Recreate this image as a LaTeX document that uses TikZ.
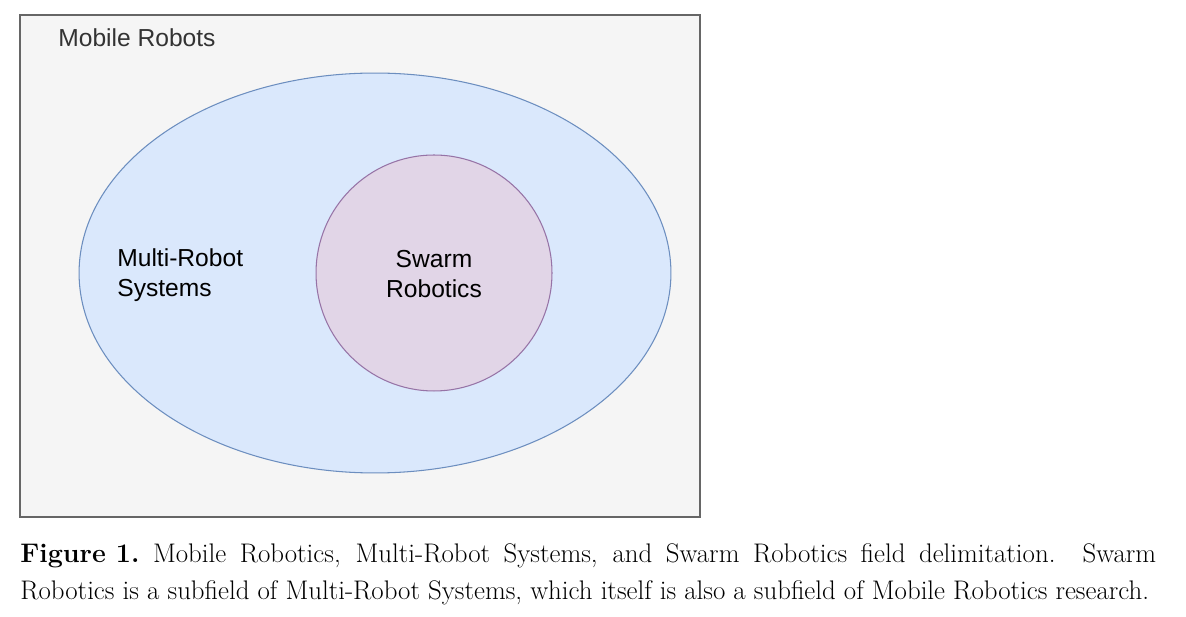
\documentclass[tikz,border=0pt]{standalone}
\usepackage{fontspec}
\setsansfont{Liberation Sans}
\usepackage{tikz}
\usetikzlibrary{shapes.geometric}
\definecolor{boxfill}{HTML}{F5F5F5}
\definecolor{boxline}{HTML}{666666}
\definecolor{mrsfill}{HTML}{DAE8FC}
\definecolor{mrsline}{HTML}{6C8EBF}
\definecolor{swfill}{HTML}{E1D5E7}
\definecolor{swline}{HTML}{9673A6}
\definecolor{labgrey}{HTML}{333333}
\tikzset{
  field/.style={font=\sffamily\fontsize{14}{17}\selectfont, inner sep=0pt},
  captext/.style={font=\fontsize{15.3}{19}\selectfont, inner sep=0pt, anchor=base west}
}

\begin{document}
\begin{tikzpicture}[x=0.02cm, y=-0.02cm]
    \useasboundingbox (0,0) rectangle (1186,617);
    \node[draw=boxline, fill=boxfill, line width=0.8pt, rectangle, minimum width=13.6cm, minimum height=10.04cm, inner sep=0pt] (mr) at (360,266) {};
    \node[ellipse, draw=mrsline, fill=mrsfill, line width=0.6pt, minimum width=11.84cm, minimum height=8cm, inner sep=0pt] (mrs) at (375,273) {};
    \node[circle, draw=swline, fill=swfill, line width=0.6pt, minimum size=4.72cm, inner sep=0pt] (sw) at (434,273) {};
    \node[field, text=labgrey, anchor=base west] (mrlab) at (58,47) {Mobile Robots};
    \node[field, align=left, anchor=west] (mrslab) at (117,275) {Multi-Robot\\Systems};
    \node[field, align=center] (swlab) at (434,274) {Swarm\\Robotics};
    \node[captext] (cap1) at (20,562) {\makebox[22.72cm][s]{\mbox{\textbf{Figure 1.}}\ Mobile Robotics, Multi-Robot Systems, and Swarm Robotics field delimitation. Swarm}};
    \node[captext] (cap2) at (20,600) {Robotics is a subfield of Multi-Robot Systems, which itself is also a subfield of Mobile Robotics research.};
  \end{tikzpicture}
\end{document}
